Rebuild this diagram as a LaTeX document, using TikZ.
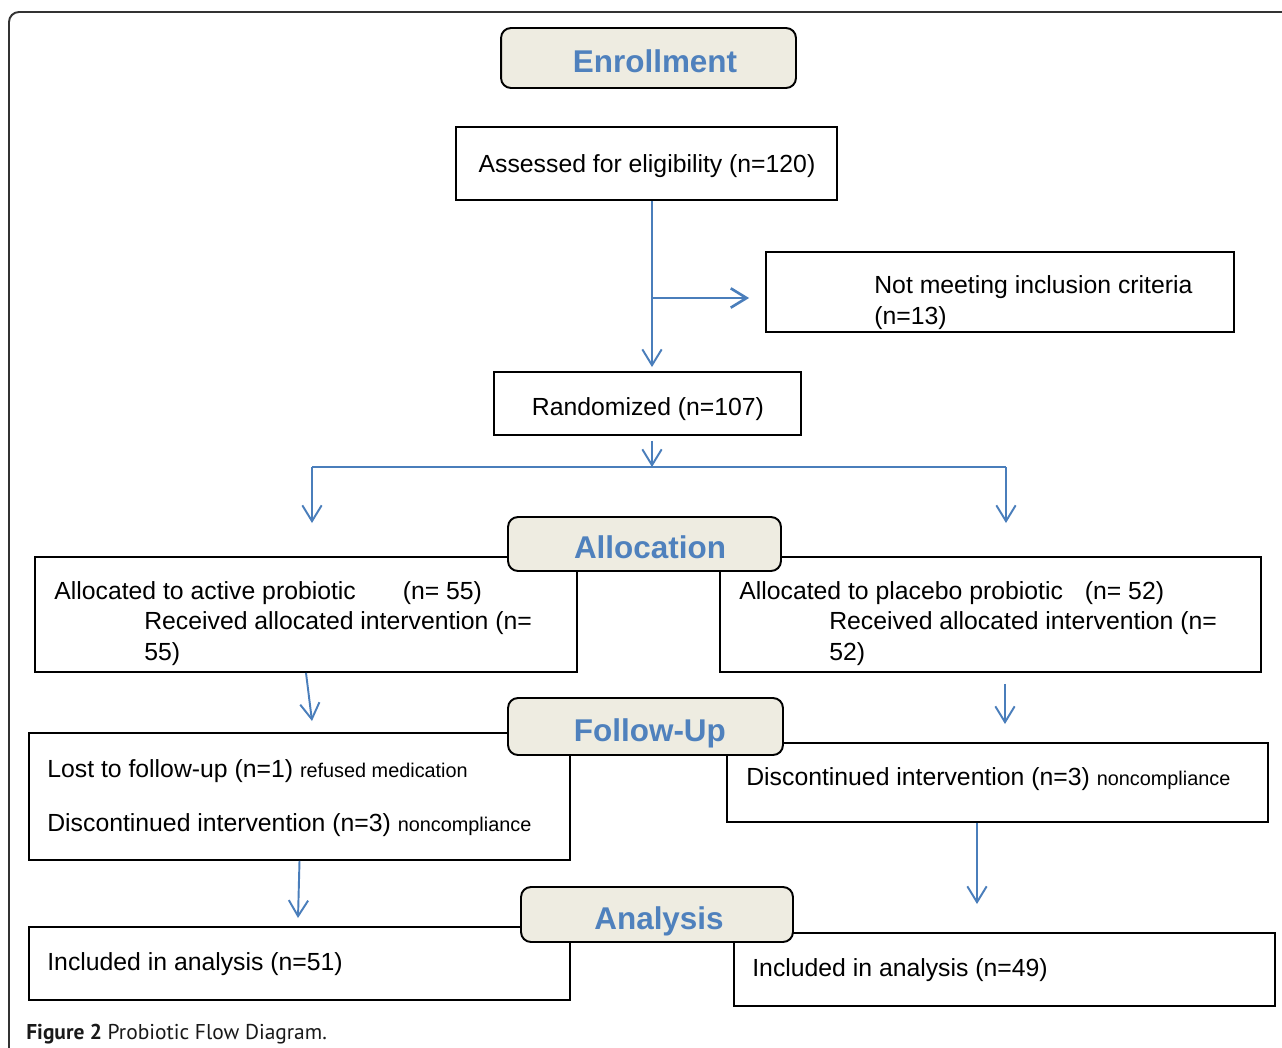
\documentclass[tikz,border=0pt]{standalone}
\usepackage{fontspec}
\setmainfont{Liberation Sans}
\newfontfamily\capfont{PT Sans}
\usepackage{tikz}
\usetikzlibrary{arrows.meta}
\definecolor{arrowblue}{HTML}{4A7EBB}
\definecolor{stageblue}{HTML}{4F81BD}
\definecolor{stagefill}{HTML}{EEECE1}
\colorlet{framegray}{black!80}
\newcommand\flowtxt{\fontsize{14.1}{17.1}\selectfont}
\newcommand\notetxt{\fontsize{11.3}{13}\selectfont}
\tikzset{
  flowbox/.style={draw=black, line width=1.1pt, fill=white, inner sep=0pt},
  stage/.style={draw=black, line width=1.1pt, fill=stagefill, rounded corners=0.2cm,
    inner sep=0pt, text=stageblue, text height=0.58cm, text depth=0pt,
    font=\fontsize{17.9}{20}\selectfont\bfseries},
  txt/.style={inner sep=0pt, font=\flowtxt, align=left, anchor=base west},
  flow/.style={draw=arrowblue, line width=1.1pt, -{Straight Barb[length=9pt,width=11pt]}},
}

\begin{document}
\begin{tikzpicture}[x=0.02cm, y=-0.02cm]
\clip (0,0) rectangle (1282,1048);
\fill[white] (0,0) rectangle (1282,1048);
\draw[framegray, line width=1.1pt, rounded corners=0.2cm] (9,1070) -- (9,12) -- (1300,12);

\node[stage, minimum width=5.9cm, minimum height=1.2cm] (enrol) at (648.5,58) {\hspace*{7.4pt}Enrollment};
\node[flowbox, minimum width=7.62cm, minimum height=1.46cm] (assess) at (646.5,163.5) {};
\node[txt, anchor=base] (assesstxt) at (647,172) {Assessed for eligibility (n=120)};
\node[flowbox, minimum width=9.36cm, minimum height=1.6cm] (notmeet) at (1000,292) {};
\node[txt] (notmeettxt) at (874,324) {Not meeting inclusion criteria\\(n=13)};
\node[flowbox, minimum width=6.14cm, minimum height=1.26cm] (rand) at (647.5,403.5) {};
\node[txt, anchor=base] (randtxt) at (648,415) {Randomized (n=107)};

\coordinate (split) at (652,298);
\draw[flow, shorten >=0.08cm] (assess.south -| split) -- (rand.north -| split);
\draw[flow, line width=1.5pt, shorten >=0.32cm] (split) -- (split -| notmeet.west);

\coordinate (fork) at (652,467);
\coordinate (forkL) at (312,467);
\coordinate (forkR) at (1006,467);
\coordinate (tipL) at (312,523);
\coordinate (tipR) at (1006,523);
\draw[flow, shorten <=0.1cm] (rand.south -| fork) -- (fork);
\draw[arrowblue, line width=1.1pt] (forkL) -- (forkR);
\draw[flow] (forkL) -- (tipL);
\draw[flow] (forkR) -- (tipR);

% allocation
\node[flowbox, minimum width=10.84cm, minimum height=2.3cm] (allocA) at (306,614.5) {};
\node[txt] (allocAtxt) at (54,660) {Allocated to active probiotic\hspace{26.7pt}(n= 55)\\
  \hspace*{51.2pt}Received allocated intervention (n=\\\hspace*{51.2pt}55)};
\node[flowbox, minimum width=10.82cm, minimum height=2.3cm] (allocB) at (990.5,614.5) {};
\node[txt] (allocBtxt) at (739,660) {Allocated to placebo probiotic\hspace{12.5pt}(n= 52)\\
  \hspace*{51.2pt}Received allocated intervention (n=\\\hspace*{51.2pt}52)};
\node[stage, minimum width=5.46cm, minimum height=1.08cm] (allocstage) at (644.5,544) {\hspace*{6.3pt}Allocation};

\coordinate (tipFL) at (312,721);
\coordinate (tipFR) at (1005,724);
\draw[flow] (allocA.south) -- (tipFL);
\draw[flow, shorten <=0.22cm] (allocB.south -| tipFR) -- (tipFR);

% follow-up
\node[flowbox, minimum width=10.82cm, minimum height=2.54cm] (followA) at (299.5,796.5) {};
\node[txt] (losttxt) at (47,777) {Lost to follow-up (n=1) {\notetxt refused medication}};
\node[txt] (discAtxt) at (47,831) {Discontinued intervention (n=3) {\notetxt noncompliance}};
\node[flowbox, minimum width=10.82cm, minimum height=1.58cm] (followB) at (997.5,782.5) {};
\node[txt] (discBtxt) at (746,785) {Discontinued intervention (n=3) {\notetxt noncompliance}};
\node[stage, minimum width=5.5cm, minimum height=1.14cm] (followstage) at (645.5,726.5) {\hspace*{5pt}Follow-Up};

\coordinate (tipAL) at (298,918);
\coordinate (tipAR) at (977,904);
\draw[flow] (followA.south) -- (tipAL);
\draw[flow] (followB.south -| tipAR) -- (tipAR);

% analysis
\node[flowbox, minimum width=10.82cm, minimum height=1.46cm] (anaA) at (299.5,963.5) {};
\node[txt] (anaAtxt) at (47,970) {Included in analysis (n=51)};
\node[flowbox, minimum width=10.82cm, minimum height=1.46cm] (anaB) at (1004.5,969.5) {};
\node[txt] (anaBtxt) at (752,976) {Included in analysis (n=49)};
\node[stage, minimum width=5.44cm, minimum height=1.1cm] (anastage) at (657,914.5) {\hspace*{2.3pt}Analysis};

\node[anchor=base west, inner sep=0pt, text=black!90, font=\capfont\fontsize{12.2}{14}\selectfont] (caption) at (26,1039) {\textbf{Figure 2} Probiotic Flow Diagram.};
\end{tikzpicture}
\end{document}
